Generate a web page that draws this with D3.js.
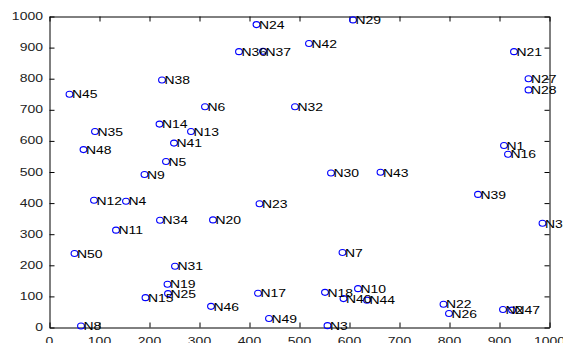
<!DOCTYPE html>
<html>
<head>
<meta charset="utf-8">
<script src="https://cdn.jsdelivr.net/npm/d3@7"></script>
<style>
  html, body { margin: 0; padding: 0; background: #fff; overflow: hidden; }
  svg { display: block; }
</style>
</head>
<body>
<svg id="chart" width="563" height="343"></svg>
<script>
// Node names and coordinates
const names = ["N1","N2","N3","N4","N5","N6","N7","N8","N9","N10",
  "N11","N12","N13","N14","N15","N16","N17","N18","N19","N20",
  "N21","N22","N23","N24","N25","N26","N27","N28","N29","N30",
  "N31","N32","N33","N34","N35","N36","N37","N38","N39","N40",
  "N41","N42","N43","N44","N45","N46","N47","N48","N49","N50"];
const xs = [909, 907, 556, 153, 233, 311, 586, 63, 190, 617,
  133, 89, 283, 220, 192, 917, 417, 551, 236, 327,
  929, 788, 420, 414, 237, 799, 958, 958, 607, 563,
  251, 491, 986, 221, 91, 379, 427, 225, 857, 588,
  249, 519, 662, 635, 40, 323, 925, 68, 439, 50];
const ys = [585, 58, 6, 406, 534, 710, 241, 5, 492, 125,
  313, 409, 630, 654, 96, 557, 110, 113, 139, 346,
  887, 75, 398, 974, 109, 45, 800, 764, 989, 497,
  197, 710, 335, 345, 630, 887, 888, 796, 428, 93,
  593, 913, 499, 88, 750, 68, 56, 572, 29, 238];
const xTicks = [0, 100, 200, 300, 400, 500, 600, 700, 800, 900, 1000];
const yTicks = [0, 100, 200, 300, 400, 500, 600, 700, 800, 900, 1000];

const svg = d3.select("#chart");
const x = d3.scaleLinear().domain([0, 1000]).range([49.5, 549.5]);
const y = d3.scaleLinear().domain([0, 1000]).range([327.5, 16.5]);

const tickFont = "'Liberation Sans', Arial, Helvetica, sans-serif";

// Box axes with inward ticks on all four sides
function styleAxis(g) {
  g.selectAll("path.domain").attr("stroke", "#000").attr("stroke-width", 1);
  g.selectAll(".tick line").attr("stroke", "#000").attr("stroke-width", 1);
  g.selectAll(".tick text").remove();
}
svg.append("g").attr("transform", `translate(0,${y(0)})`)
  .call(d3.axisBottom(x).tickValues(xTicks).tickSizeInner(-5).tickSizeOuter(0)).call(styleAxis);
svg.append("g").attr("transform", `translate(0,${y(1000)})`)
  .call(d3.axisTop(x).tickValues(xTicks).tickSizeInner(-5).tickSizeOuter(0)).call(styleAxis);
svg.append("g").attr("transform", `translate(${x(0)},0)`)
  .call(d3.axisLeft(y).tickValues(yTicks).tickSizeInner(-5).tickSizeOuter(0)).call(styleAxis);
svg.append("g").attr("transform", `translate(${x(1000)},0)`)
  .call(d3.axisRight(y).tickValues(yTicks).tickSizeInner(-5).tickSizeOuter(0)).call(styleAxis);

// Tick labels (stretched wide like the original figure's font)
svg.append("g").selectAll("text").data(yTicks).join("text")
  .attr("transform", d => `translate(43,${y(d) + 3.5}) scale(1.4,1)`)
  .attr("text-anchor", "end")
  .attr("font-family", tickFont).attr("font-size", 10).attr("fill", "#222")
  .text(d => d);
svg.append("g").selectAll("text").data(xTicks).join("text")
  .attr("transform", d => `translate(${x(d)},345) scale(1.4,1)`)
  .attr("text-anchor", "middle")
  .attr("font-family", tickFont).attr("font-size", 10).attr("fill", "#222")
  .text(d => d);

// Node markers
const nodes = names.map((n, i) => ({ name: n, x: xs[i], y: ys[i] }));
svg.append("g").selectAll("ellipse").data(nodes).join("ellipse")
  .attr("cx", d => x(d.x)).attr("cy", d => y(d.y))
  .attr("rx", 3.4).attr("ry", 3.0)
  .attr("fill", "none").attr("stroke", "#0000ff").attr("stroke-width", 1.1);

// Node labels
svg.append("g").selectAll("text").data(nodes).join("text")
  .attr("transform", d => `translate(${x(d.x) + 2.5},${y(d.y) + 4.2}) scale(1.27,1)`)
  .attr("font-family", tickFont).attr("font-size", 11).attr("fill", "#000")
  .text(d => d.name);
</script>
</body>
</html>
